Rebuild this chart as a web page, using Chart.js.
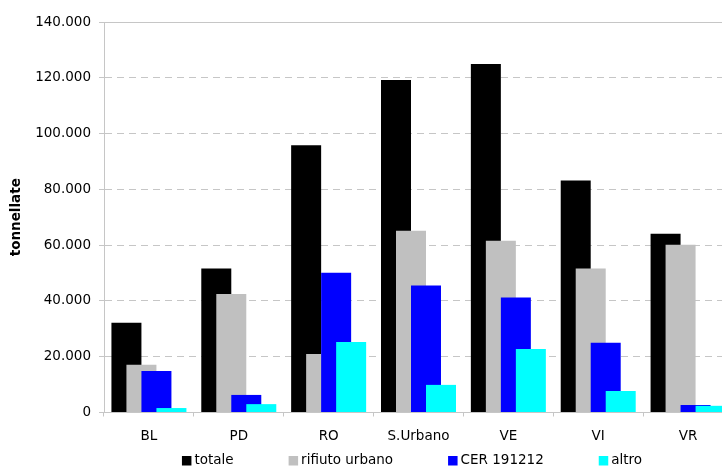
<!DOCTYPE html>
<html>
<head>
<meta charset="utf-8">
<script src="https://cdn.jsdelivr.net/npm/chart.js@4"></script>
<style>
  html, body { margin: 0; padding: 0; background: #fff; overflow: hidden; }
  #wrap { width: 722px; height: 467px; overflow: hidden; }
</style>
</head>
<body>
<div id="wrap"><canvas id="rifiutiChart" width="744" height="467"></canvas></div>
<script>
// Data (tonnes)
const provinces = ['BL', 'PD', 'RO', 'S.Urbano', 'VE', 'VI', 'VR'];
const totale = [32200, 51600, 95800, 119200, 124900, 83200, 64100];
const rifiutoUrbano = [17100, 42500, 21000, 65200, 61600, 51600, 60100];
const cer191212 = [14900, 6300, 50100, 45500, 41200, 25000, 2700];
const altro = [1600, 3000, 25300, 9900, 22800, 7700, 2400];
const yTicks = [0, 20000, 40000, 60000, 80000, 100000, 120000, 140000];

const FONT = '"DejaVu Sans", Verdana, sans-serif';
const GRID = '#c6c6c6';

function fmt(v) {
  return String(v).replace(/\B(?=(\d{3})+(?!\d))/g, '.');
}

// later series drawn on top of earlier ones (overlapping bars)
const drawInOrder = {
  id: 'drawInOrder',
  beforeDatasetsDraw(chart) {
    chart.getSortedVisibleDatasetMetas().forEach(m => m.controller.draw());
    return false;
  }
};

// legend row under the axis labels
const bottomLegend = {
  id: 'bottomLegend',
  afterDraw(chart) {
    const c = chart.ctx;
    const sets = chart.data.datasets;
    const box = 9.5, gapText = 3, gapItem = 55, y = 460.5;
    c.save();
    c.font = '13.5px ' + FONT;
    c.textBaseline = 'middle';
    c.textAlign = 'left';
    const widths = sets.map(d => c.measureText(d.label).width);
    const total = widths.reduce((a, w) => a + box + gapText + w, 0) + gapItem * (sets.length - 1);
    let x = 412 - total / 2;
    sets.forEach((d, i) => {
      c.fillStyle = d.backgroundColor;
      c.fillRect(x, y - 4.5, box, box);
      c.fillStyle = '#000';
      c.fillText(d.label, x + box + gapText, y);
      x += box + gapText + widths[i] + gapItem;
    });
    c.restore();
  }
};

const ctx = document.getElementById('rifiutiChart').getContext('2d');

new Chart(ctx, {
  type: 'bar',
  data: {
    labels: provinces,
    datasets: [
      { label: 'totale', data: totale, backgroundColor: '#000000' },
      { label: 'rifiuto urbano', data: rifiutoUrbano, backgroundColor: '#c0c0c0' },
      { label: 'CER 191212', data: cer191212, backgroundColor: '#0000ff' },
      { label: 'altro', data: altro, backgroundColor: '#00ffff' }
    ]
  },
  options: {
    responsive: false,
    animation: false,
    devicePixelRatio: 1,
    categoryPercentage: 0.6677,
    barPercentage: 2,
    layout: { padding: { top: 22, right: 11, bottom: 0, left: 0 } },
    plugins: {
      legend: { display: false },
      tooltip: { enabled: false }
    },
    scales: {
      x: {
        afterFit: s => { s.height = 54.5; },
        grid: { drawOnChartArea: false, drawTicks: true, tickLength: 4, color: GRID, offset: true },
        border: { color: GRID, width: 1 },
        ticks: { color: '#000', padding: 12, font: { family: FONT, size: 13.5 } }
      },
      y: {
        min: 0,
        max: 140000,
        afterFit: s => { s.width = 104; },
        afterBuildTicks: s => { s.ticks = yTicks.map(v => ({ value: v })); },
        grid: { color: GRID, tickLength: 5, tickColor: GRID },
        border: {
          color: GRID,
          width: 1,
          dash: c => (c.tick && c.tick.value === 140000) ? [] : [7, 5]
        },
        ticks: { color: '#000', padding: 8, font: { family: FONT, size: 13.5 }, callback: v => fmt(v) },
        title: {
          display: true,
          text: 'tonnellate',
          color: '#000',
          padding: { top: 8, bottom: 0 },
          font: { family: FONT, size: 13.5, weight: 'bold' }
        }
      }
    }
  },
  plugins: [drawInOrder, bottomLegend]
});
</script>
</body>
</html>
